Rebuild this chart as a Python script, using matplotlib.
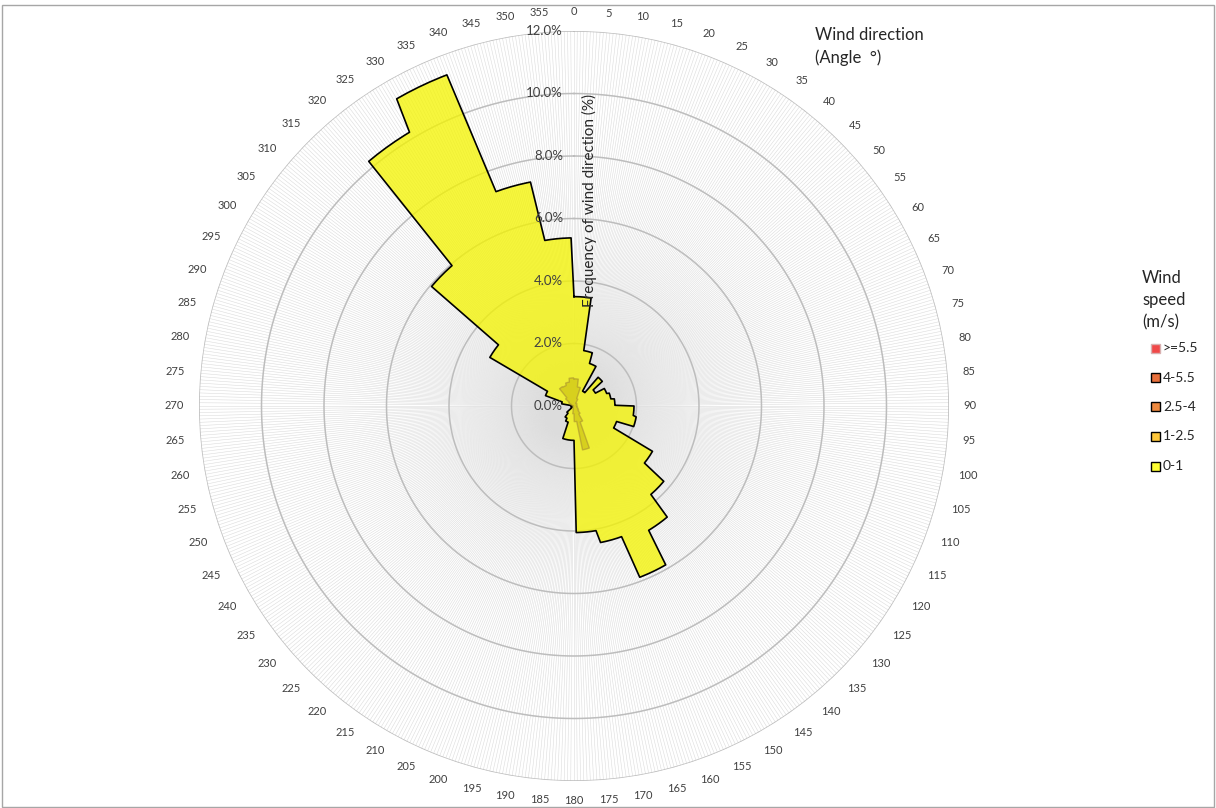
import numpy as np
import matplotlib.pyplot as plt
from matplotlib.patches import Rectangle

plt.rcParams['font.family'] = ['Lato', 'DejaVu Sans']

# wind rose data: frequency (%) per 10 degree sector, sector start angles
sector_start = np.arange(0, 360, 10)
speed_0_1 = [3.5, 1.8, 1.45, 0.55, 1.2, 0.8, 1.12, 1.2, 1.31,
             1.92, 2.02, 1.45, 2.9, 3.75, 4.64, 5.87, 4.45, 4.05,
             1.1, 1.1, 0.55, 0.45, 0.3, 0.1, 0.08, 0.06, 0.08,
             0.1, 0.4, 0.97, 3.11, 5.95, 10.22, 11.35, 7.3, 5.38]
speed_1_25 = [0.87, 0.62, 0.25, 0.1, 0.12, 0.1, 0.1, 0.08, 0.08,
              0.1, 0.1, 0.12, 0.15, 0.2, 0.3, 0.55, 1.43, 0.5,
              0.25, 0.1, 0.06, 0.04, 0.03, 0.02, 0.02, 0.02, 0.02,
              0.03, 0.05, 0.1, 0.2, 0.35, 0.72, 0.7, 0.78, 0.9]
angle_labels = np.arange(0, 360, 5)
radial_ticks = [0, 2, 4, 6, 8, 10, 12]
legend_labels = ['>=5.5', '4-5.5', '2.5-4', '1-2.5', '0-1']
legend_faces = ['#F04848', '#E8703C', '#EE8A40', '#FFC83C', '#FFFF33']
legend_edges = ['#D8B0B0', 'black', 'black', 'black', 'black']

W, H = 1216, 808
cx, cy, R = 574, 406, 375
px_per_unit = R / 12.0

fig = plt.figure(figsize=(W / 100, H / 100), dpi=100)
ax = fig.add_axes([(cx - R) / W, (H - cy - R) / H, 2 * R / W, 2 * R / H],
                  projection='polar')
ax.set_theta_zero_location('N')
ax.set_theta_direction(-1)
ax.set_ylim(0, 12)
ax.set_xticks([])
ax.set_yticks([])
ax.grid(False)
ax.spines['polar'].set_visible(False)
ax.patch.set_alpha(0)

# spokes
spokes = np.deg2rad(np.arange(0, 360, 0.5))
ax.vlines(spokes, 0, 12, colors='#DCDCDC', lw=0.4, zorder=1)

# rings
ring_t = np.linspace(0, 2 * np.pi, 721)
for r in radial_ticks[1:]:
    ax.plot(ring_t, np.full_like(ring_t, r), color='#BDBDBD', lw=1.1, zorder=2)

# series, one category per degree
deg = np.arange(0, 361)
th = np.deg2rad(deg)
v1 = np.repeat(speed_0_1, 10)
v1 = np.append(v1, v1[0])
v2 = np.repeat(speed_1_25, 10)
v2 = np.append(v2, v2[0])

ax.fill(th, v1, facecolor='#F4F400', alpha=0.76, lw=0, zorder=3)
ax.plot(th, v1, color='black', lw=1.2, zorder=4)
ax.fill(th, v2, facecolor='#B8A800', alpha=0.42, lw=0, zorder=5)
ax.plot(th, v2, color='#A89030', alpha=0.6, lw=1.0, zorder=6)

# radial labels
for r in radial_ticks:
    ax.annotate(f'{r:.1f}%', xy=(0, r), xytext=(-8, 0), textcoords='offset points',
                ha='right', va='center', fontsize=9.5, color='#404040', zorder=7)

# angle labels
for a in angle_labels:
    s = str(a)
    t = np.deg2rad(a)
    half_w = 3.2 * len(s)
    r_px = 390 + abs(np.sin(t)) * half_w + abs(np.cos(t)) * 4
    ax.text(t, r_px / px_per_unit, s, ha='center', va='center',
            fontsize=8, color='#404040')

fig.text(589 / W, 1 - 200 / H, 'Frequency of wind direction (%)', rotation=90,
         ha='center', va='center', fontsize=11, color='#262626')

fig.text(815 / W, 1 - 35 / H, 'Wind direction', ha='left', va='center',
         fontsize=12, color='#262626')
fig.text(815 / W, 1 - 58 / H, '(Angle  \u00b0)', ha='left', va='center',
         fontsize=12, color='#262626')

# legend
for i, line in enumerate(['Wind', 'speed', '(m/s)']):
    fig.text(1142 / W, 1 - (278 + 22 * i) / H, line, ha='left', va='center',
             fontsize=12, color='#262626')
for i, (lab, fc, ec) in enumerate(zip(legend_labels, legend_faces, legend_edges)):
    y = 348 + 29.5 * i
    fig.patches.append(Rectangle(((1151) / W, 1 - (y + 4.5) / H), 9 / W, 9 / H,
                                 transform=fig.transFigure, facecolor=fc,
                                 edgecolor=ec, lw=1.0))
    fig.text(1163 / W, 1 - y / H, lab, ha='left', va='center', fontsize=10,
             color='#262626')

# chart border
fig.patches.append(Rectangle((1.5 / W, 1.5 / H), (W - 4) / W, (H - 6) / H,
                             transform=fig.transFigure, fill=False,
                             edgecolor='#A6A6A6', lw=1.0))

fig.savefig('out.png', dpi=100, facecolor='white')
